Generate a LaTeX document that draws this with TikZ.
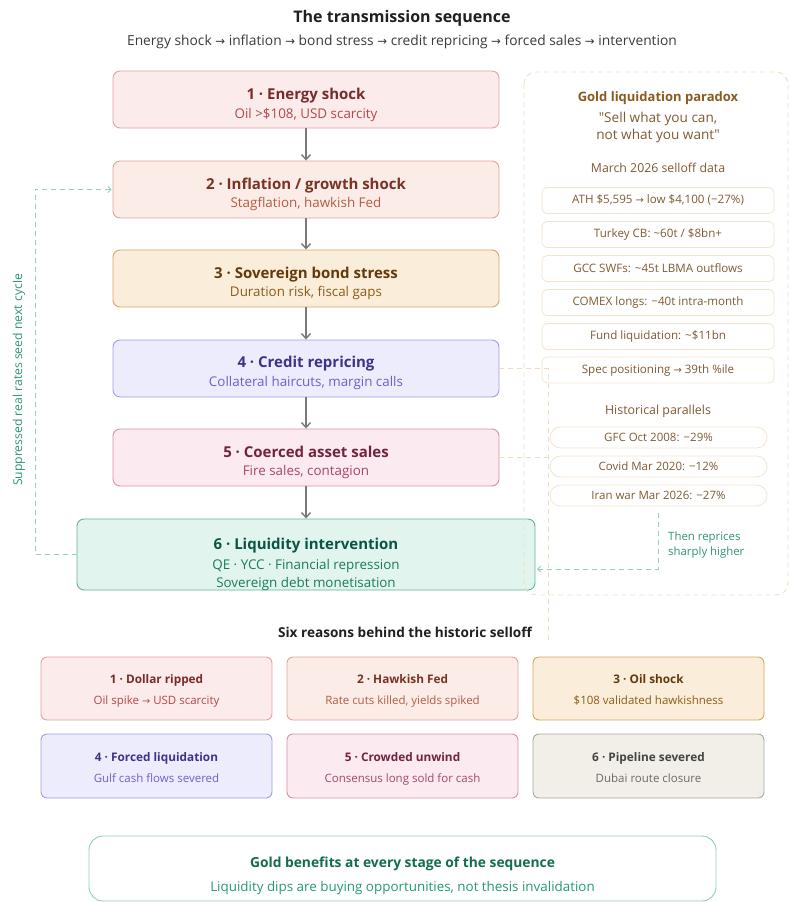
\documentclass[tikz,border=0pt]{standalone}
\usepackage{fontspec}
\setmainfont{Open Sans}
\newfontfamily\arrowfont[Scale=0.85]{DejaVu Sans}
\newfontfamily\qtfont[Ligatures=TeXOff]{Open Sans}
\usetikzlibrary{arrows.meta}
\newcommand{\rarr}{{\arrowfont\char"2192}}
\newcommand{\qt}{{\qtfont\char"22}}
\newcommand{\fsz}[1]{\fontsize{#1}{#1}\selectfont}
% colours
\definecolor{redF}{HTML}{FCEBEB}\definecolor{redD}{HTML}{E0A3A3}\definecolor{redT}{HTML}{7A2A2A}\definecolor{redS}{HTML}{B5474B}
\definecolor{corF}{HTML}{FBECE7}\definecolor{corD}{HTML}{DCA696}\definecolor{corT}{HTML}{7A3222}\definecolor{corS}{HTML}{B45C42}
\definecolor{ambF}{HTML}{FAEEDA}\definecolor{ambD}{HTML}{D6A765}\definecolor{ambT}{HTML}{633A0C}\definecolor{ambS}{HTML}{8E5B16}
\definecolor{purF}{HTML}{EDECFD}\definecolor{purD}{HTML}{A29CE6}\definecolor{purT}{HTML}{3C3489}\definecolor{purS}{HTML}{6B60D0}
\definecolor{pinF}{HTML}{FBEAF0}\definecolor{pinD}{HTML}{D890A8}\definecolor{pinT}{HTML}{72243E}\definecolor{pinS}{HTML}{A8456B}
\definecolor{grnF}{HTML}{E1F5EE}\definecolor{grnD}{HTML}{66B394}\definecolor{grnT}{HTML}{0B5444}\definecolor{grnS}{HTML}{1A7A5E}
\definecolor{gryF}{HTML}{F1EFE8}\definecolor{gryD}{HTML}{A9A79F}\definecolor{gryT}{HTML}{444441}\definecolor{gryS}{HTML}{6A6964}
\definecolor{panD}{HTML}{F2DCC0}\definecolor{panT}{HTML}{8A5A1E}\definecolor{panS}{HTML}{7E5A32}\definecolor{datD}{HTML}{F3E4CF}
\definecolor{loopC}{HTML}{8FD3B9}\definecolor{loopT}{HTML}{2E9474}\definecolor{arrC}{HTML}{7A7A78}
\definecolor{benD}{HTML}{8ED1B5}\definecolor{benT}{HTML}{146B52}\definecolor{benS}{HTML}{249A74}
\definecolor{ttlC}{HTML}{1F1F1F}\definecolor{subC}{HTML}{3A3A3A}
\tikzset{
  stagebox/.style={rounded corners=7pt, line width=0.9pt, minimum width=386pt, minimum height=57pt, inner sep=0pt},
  stt/.style={anchor=base, inner sep=0pt, font=\bfseries\fsz{15}},
  sst/.style={anchor=base, inner sep=0pt, font=\fsz{13.4}},
  flow/.style={draw=arrC, line width=1.4pt, -{Straight Barb[length=5pt,width=9pt]}},
  databox/.style={draw=datD, line width=0.8pt, rounded corners=5pt, minimum width=232pt, minimum height=26pt, inner sep=0pt, text=panS, font=\fsz{11.6}},
  pill/.style={draw=datD, line width=0.8pt, rounded corners=10.5pt, minimum width=217pt, minimum height=21pt, inner sep=0pt, text=panS, font=\fsz{11.5}},
  reabox/.style={rounded corners=6pt, line width=0.9pt, minimum width=231pt, minimum height=63pt, inner sep=0pt},
  rtt/.style={anchor=base, inner sep=0pt, font=\bfseries\fsz{11.8}},
  rst/.style={anchor=base, inner sep=0pt, font=\fsz{11.5}},
  orl/.style={draw=panD, line width=0.9pt, dash pattern=on 5pt off 4pt},
  grl/.style={draw=loopC, line width=0.9pt, dash pattern=on 5pt off 4pt},
}
\begin{document}
\begin{tikzpicture}[x=1pt,y=-1pt]
\useasboundingbox (0,0) rectangle (790,902);
% titles
\node[anchor=base, inner sep=0pt, text=ttlC, font=\bfseries\fsz{16}] (title) at (402,23) {The transmission sequence};
\node[anchor=base, inner sep=0pt, text=subC, font=\fsz{13.8}] (subtitle) at (402,45) {Energy shock \rarr{} inflation \rarr{} bond stress \rarr{} credit repricing \rarr{} forced sales \rarr{} intervention};
% stages
\node[stagebox, fill=redF, draw=redD] (s1) at (306,99.5) {};
\node[stt, text=redT] (s1t) at (306,99.5) {1 · Energy shock};
\node[sst, text=redS] (s1s) at (306,118.5) {Oil >\$108, USD scarcity};
\node[stagebox, fill=corF, draw=corD] (s2) at (306,189.5) {};
\node[stt, text=corT] (s2t) at (306,189.5) {2 · Inflation / growth shock};
\node[sst, text=corS] (s2s) at (306,207.5) {Stagflation, hawkish Fed};
\node[stagebox, fill=ambF, draw=ambD] (s3) at (306,278.5) {};
\node[stt, text=ambT] (s3t) at (306,278.5) {3 · Sovereign bond stress};
\node[sst, text=ambS] (s3s) at (306,296.5) {Duration risk, fiscal gaps};
\node[stagebox, fill=purF, draw=purD] (s4) at (306,368.5) {};
\node[stt, text=purT] (s4t) at (306,367.5) {4 · Credit repricing};
\node[sst, text=purS] (s4s) at (306,386.5) {Collateral haircuts, margin calls};
\node[stagebox, fill=pinF, draw=pinD] (s5) at (306,457.5) {};
\node[stt, text=pinT] (s5t) at (306,457.5) {5 · Coerced asset sales};
\node[sst, text=pinS] (s5s) at (306,475.5) {Fire sales, contagion};
\node[stagebox, fill=grnF, draw=grnD, minimum width=458pt, minimum height=71pt] (s6) at (306,554.5) {};
\node[stt, text=grnT] (s6t) at (306,549.5) {6 · Liquidity intervention};
\node[sst, text=grnS] (s6s) at (306,569.5) {QE · YCC · Financial repression};
\node[sst, text=grnS] (s6u) at (306,587.5) {Sovereign debt monetisation};
\draw[flow] (s1) -- (s2);
\draw[flow] (s2) -- (s3);
\draw[flow] (s3) -- (s4);
\draw[flow] (s4) -- (s5);
\draw[flow] (s5) -- (s6);
% right panel
\draw[draw=panD, line width=0.9pt, dash pattern=on 5pt off 4pt, rounded corners=12pt] (524,72) rectangle (788,595);
\node[anchor=base, inner sep=0pt, text=panT, font=\bfseries\fsz{13}] (pt) at (658,101) {Gold liquidation paradox};
\node[anchor=base, inner sep=0pt, text=panS, font=\fsz{13.6}] (pq1) at (658,122) {\qt Sell what you can,};
\node[anchor=base, inner sep=0pt, text=panS, font=\fsz{13.6}] (pq2) at (658,139) {not what you want\qt};
\node[anchor=base, inner sep=0pt, text=panS, font=\fsz{12.3}] (pd) at (658,172) {March 2026 selloff data};
\node[databox] (d1) at (658,200.5) {ATH \$5,595 \rarr{} low \$4,100 (−27\%)};
\node[databox] (d2) at (658,234.5) {Turkey CB: \textasciitilde 60t / \$8bn+};
\node[databox] (d3) at (658,268.5) {GCC SWFs: \textasciitilde 45t LBMA outflows};
\node[databox] (d4) at (658,302.5) {COMEX longs: −40t intra-month};
\node[databox] (d5) at (658,336.5) {Fund liquidation: \textasciitilde\$11bn};
\node[databox] (d6) at (658,370) {Spec positioning \rarr{} 39th \%ile};
\node[anchor=base, inner sep=0pt, text=panS, font=\fsz{12.4}] (ph) at (658,414) {Historical parallels};
\node[pill] (h1) at (658.5,437.5) {GFC Oct 2008: −29\%};
\node[pill] (h2) at (658.5,466.5) {Covid Mar 2020: −12\%};
\node[pill] (h3) at (658.5,495.5) {Iran war Mar 2026: −27\%};
% connectors to panel
\coordinate (oj4) at (548,368.5);
\coordinate (oj5) at (548,457.5);
\coordinate (oend) at (548,640);
\draw[orl] (s4.east) -- (oj4) -- (oend);
\draw[orl] (s5.east) -- (oj5);
% reprice connector
\coordinate (rpA) at (658,513);
\coordinate (rpB) at (658,569);
\coordinate (rpC) at (537,569);
\draw[grl, -{Straight Barb[length=3pt,width=6pt]}] (rpA) -- (rpB) -- (rpC);
\node[anchor=base west, inner sep=0pt, text=loopT, font=\fsz{11.4}] (rp1) at (668,540) {Then reprices};
\node[anchor=base west, inner sep=0pt, text=loopT, font=\fsz{11.4}] (rp2) at (668,555.5) {sharply higher};
% loop back
\coordinate (lpA) at (35,554.5);
\coordinate (lpB) at (35,189.5);
\draw[grl, -{Straight Barb[length=3pt,width=6pt]}] (s6.west) -- (lpA) -- (lpB) -- ([xshift=-1pt]s2.west);
\node[rotate=90, inner sep=0pt, text=loopT, font=\fsz{12.2}] (lpl) at (19,380) {Suppressed real rates seed next cycle};
% six reasons
\node[anchor=base, inner sep=0pt, text=ttlC, font=\bfseries\fsz{13.6}] (rt) at (405,637) {Six reasons behind the historic selloff};
\node[reabox, fill=redF, draw=redD] (r1) at (156.5,688.5) {};
\node[rtt, text=redT] at (156.5,683.5) (r1t) {1 · Dollar ripped};
\node[rst, text=redS] at (156.5,704) (r1s) {Oil spike \rarr{} USD scarcity};
\node[reabox, fill=corF, draw=corD] (r2) at (402.5,688.5) {};
\node[rtt, text=corT] at (402.5,683.5) (r2t) {2 · Hawkish Fed};
\node[rst, text=corS] at (402.5,704) (r2s) {Rate cuts killed, yields spiked};
\node[reabox, fill=ambF, draw=ambD] (r3) at (648.5,688.5) {};
\node[rtt, text=ambT] at (648.5,683.5) (r3t) {3 · Oil shock};
\node[rst, text=ambS] at (648.5,704) (r3s) {\$108 validated hawkishness};
\node[reabox, fill=purF, draw=purD, minimum height=64pt] (r4) at (156.5,766) {};
\node[rtt, text=purT] at (156.5,761.5) (r4t) {4 · Forced liquidation};
\node[rst, text=purS] at (156.5,782) (r4s) {Gulf cash flows severed};
\node[reabox, fill=pinF, draw=pinD, minimum height=64pt] (r5) at (402.5,766) {};
\node[rtt, text=pinT] at (402.5,761.5) (r5t) {5 · Crowded unwind};
\node[rst, text=pinS] at (402.5,782) (r5s) {Consensus long sold for cash};
\node[reabox, fill=gryF, draw=gryD, minimum height=64pt] (r6) at (648.5,766) {};
\node[rtt, text=gryT] at (648.5,761.5) (r6t) {6 · Pipeline severed};
\node[rst, text=gryS] at (648.5,782) (r6s) {Dubai route closure};
% benefits
\node[draw=benD, fill=white, line width=0.9pt, rounded corners=14pt, minimum width=627pt, minimum height=65pt, inner sep=0pt] (ben) at (402.5,868.5) {};
\node[anchor=base, inner sep=0pt, text=benT, font=\bfseries\fsz{13.8}] (bent) at (402.5,867) {Gold benefits at every stage of the sequence};
\node[anchor=base, inner sep=0pt, text=benS, font=\fsz{13.4}] (bens) at (402.5,891) {Liquidity dips are buying opportunities, not thesis invalidation};
\end{tikzpicture}
\end{document}
